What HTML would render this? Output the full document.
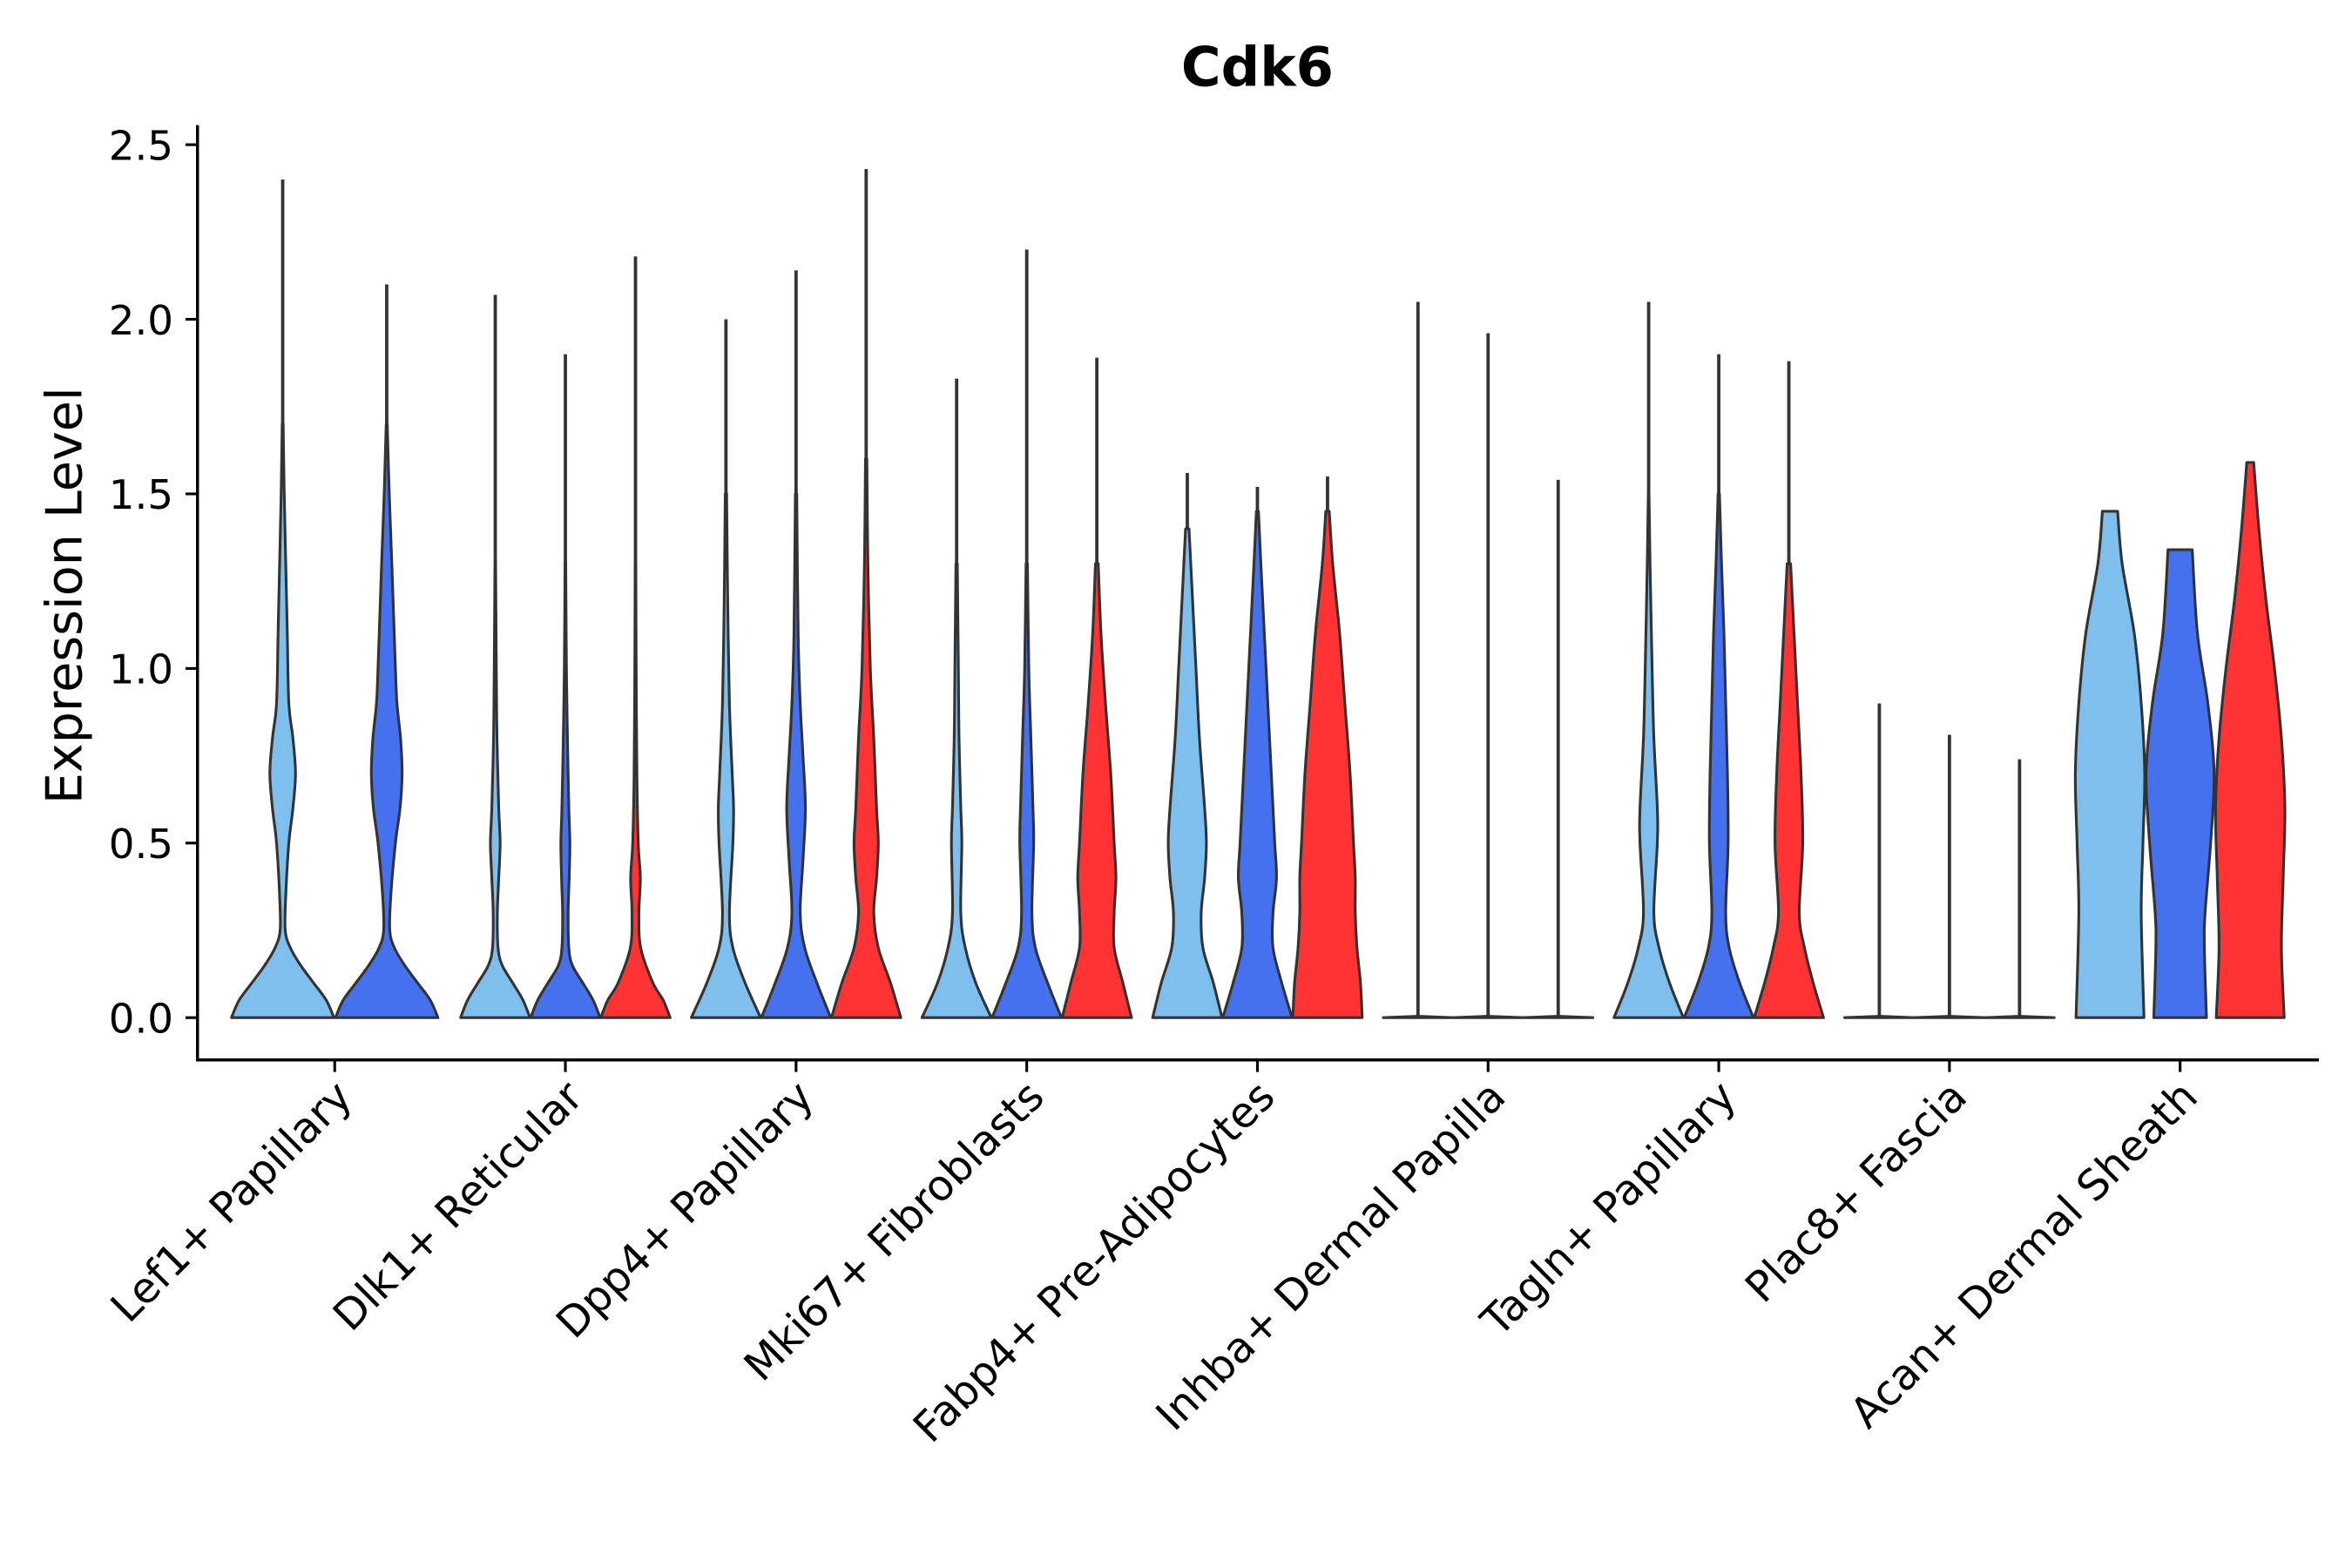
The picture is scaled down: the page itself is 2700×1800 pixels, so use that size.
<!DOCTYPE html>
<html><head><meta charset="utf-8"><style>html,body{margin:0;padding:0;background:#fff}svg{display:block}</style></head>
<body>
<svg id="chart" width="2700" height="1800" viewBox="0 0 1560 1040" xmlns="http://www.w3.org/2000/svg" font-family="'DejaVu Sans', 'Liberation Sans', sans-serif">
<rect width="1560" height="1040" fill="#fff"/>
<text x="834" y="57" text-anchor="middle" font-size="36" font-weight="bold">Cdk6</text>
<text transform="translate(54,395) rotate(-90)" text-anchor="middle" font-size="33">Expression Level</text>
<g id="plot"></g>
</svg>
<script>
const categories = ["Lef1+ Papillary","Dlk1+ Reticular","Dpp4+ Papillary","Mki67+ Fibroblasts","Fabp4+ Pre-Adipocytes","Inhba+ Dermal Papilla","Tagln+ Papillary","Plac8+ Fascia","Acan+ Dermal Sheath"];
const yTicks = [0, 0.5, 1.0, 1.5, 2.0, 2.5];
const yTickLabels = ["0.0","0.5","1.0","1.5","2.0","2.5"];
const seriesColors = ["#7FBFEE","#4570EE","#FF3333"];
const violinMax = [
 [2.40, 2.10, null],
 [2.07, 1.90, 2.18],
 [2.00, 2.14, 2.43],
 [1.83, 2.20, 1.89],
 [1.56, 1.52, 1.55],
 [2.05, 1.96, 1.54],
 [2.05, 1.90, 1.88],
 [0.90, 0.81, 0.74],
 [1.45, 1.34, 1.59]
];
const flat = [[0,1],[0.004,0.02]];
const violinShapes = [
 [[[0,1],[0.05,0.85],[0.1,0.6],[0.15,0.35],[0.2,0.15],[0.25,0.05],[0.35,0.06],[0.5,0.12],[0.6,0.2],[0.7,0.25],[0.8,0.2],[0.9,0.12],[1.1,0.09],[1.3,0.06],[1.5,0.03],[1.7,0.01]],
  [[0,1],[0.05,0.85],[0.1,0.6],[0.15,0.35],[0.2,0.15],[0.25,0.06],[0.35,0.08],[0.5,0.17],[0.6,0.26],[0.7,0.3],[0.8,0.27],[0.9,0.2],[1.0,0.17],[1.3,0.1],[1.5,0.05],[1.7,0.01]],
  null],
 [[[0,1],[0.05,0.8],[0.1,0.5],[0.15,0.2],[0.2,0.08],[0.3,0.06],[0.4,0.1],[0.5,0.14],[0.6,0.1],[0.8,0.05],[1.0,0.03],[1.3,0.01]],
  [[0,1],[0.05,0.8],[0.1,0.5],[0.15,0.2],[0.2,0.1],[0.3,0.08],[0.4,0.11],[0.5,0.13],[0.6,0.1],[0.8,0.06],[1.0,0.03],[1.3,0.01]],
  [[0,1],[0.05,0.8],[0.1,0.5],[0.2,0.15],[0.3,0.1],[0.4,0.14],[0.5,0.08],[0.7,0.04],[1.0,0.02],[1.3,0.01]]],
 [[[0,1],[0.1,0.55],[0.2,0.2],[0.3,0.1],[0.5,0.2],[0.6,0.22],[0.7,0.18],[0.9,0.1],[1.2,0.05],[1.5,0.02]],
  [[0,1],[0.1,0.6],[0.2,0.25],[0.3,0.12],[0.45,0.2],[0.6,0.27],[0.75,0.2],[0.9,0.12],[1.1,0.06],[1.5,0.02]],
  [[0,1],[0.1,0.7],[0.2,0.35],[0.3,0.22],[0.4,0.3],[0.5,0.35],[0.6,0.3],[0.8,0.22],[1.0,0.12],[1.3,0.05],[1.6,0.02]]],
 [[[0,1],[0.1,0.55],[0.2,0.25],[0.3,0.12],[0.5,0.15],[0.6,0.12],[0.8,0.07],[1.0,0.05],[1.3,0.02]],
  [[0,1],[0.1,0.6],[0.2,0.25],[0.3,0.15],[0.5,0.2],[0.6,0.18],[0.8,0.12],[1.0,0.06],[1.3,0.02]],
  [[0,1],[0.1,0.75],[0.2,0.5],[0.3,0.5],[0.4,0.55],[0.5,0.5],[0.7,0.4],[0.9,0.25],[1.1,0.12],[1.3,0.04]]],
 [[[0,1],[0.1,0.75],[0.2,0.45],[0.3,0.4],[0.4,0.5],[0.5,0.55],[0.6,0.5],[0.8,0.35],[1.0,0.25],[1.2,0.15],[1.4,0.05]],
  [[0,1],[0.1,0.7],[0.2,0.45],[0.3,0.45],[0.4,0.55],[0.5,0.5],[0.7,0.4],[0.9,0.3],[1.1,0.2],[1.3,0.1],[1.45,0.03]],
  [[0,1],[0.1,0.95],[0.2,0.85],[0.3,0.8],[0.4,0.8],[0.5,0.75],[0.7,0.65],[0.9,0.5],[1.1,0.35],[1.3,0.15],[1.45,0.05]]],
 [flat, flat, flat],
 [[[0,1],[0.1,0.6],[0.2,0.3],[0.3,0.15],[0.5,0.25],[0.6,0.25],[0.8,0.15],[1.0,0.1],[1.3,0.04],[1.5,0.01]],
  [[0,1],[0.1,0.6],[0.2,0.3],[0.3,0.2],[0.5,0.27],[0.7,0.25],[0.9,0.2],[1.1,0.15],[1.3,0.08],[1.5,0.02]],
  [[0,1],[0.1,0.7],[0.2,0.45],[0.3,0.3],[0.5,0.4],[0.7,0.35],[0.9,0.25],[1.1,0.15],[1.3,0.05]]],
 [flat, flat, flat],
 [[[0,0.98],[0.3,0.9],[0.5,0.95],[0.7,1.0],[0.9,0.9],[1.1,0.7],[1.3,0.35],[1.45,0.22]],
  [[0,0.76],[0.2,0.7],[0.3,0.72],[0.5,0.88],[0.7,0.98],[0.9,0.8],[1.1,0.5],[1.34,0.35]],
  [[0,0.98],[0.2,0.9],[0.4,0.95],[0.6,1.0],[0.8,0.9],[1.0,0.7],[1.2,0.45],[1.4,0.25],[1.59,0.1]]]
];

const NS = "http://www.w3.org/2000/svg";
const plot = document.getElementById("plot");
const L = 131, R = 1538, T = 83, B = 703;
const yMin = -0.121, yMax = 2.556;
function yScale(v){ return B - (v - yMin) / (yMax - yMin) * (B - T); }
function xScale(i){ return 222 + i * 153.0; }
function mk(tag, attrs){ const e = document.createElementNS(NS, tag); for (const k in attrs) e.setAttribute(k, attrs[k]); return e; }
function smooth(pts){
  let d = "";
  for (let k = 0; k < pts.length - 1; k++) {
    const p0 = pts[Math.max(0, k - 1)], p1 = pts[k], p2 = pts[k + 1], p3 = pts[Math.min(pts.length - 1, k + 2)];
    const c1 = [p1[0] + (p2[0] - p0[0]) / 6, p1[1] + (p2[1] - p0[1]) / 6];
    const c2 = [p2[0] - (p3[0] - p1[0]) / 6, p2[1] - (p3[1] - p1[1]) / 6];
    d += " C" + c1[0].toFixed(2) + "," + c1[1].toFixed(2) + " " + c2[0].toFixed(2) + "," + c2[1].toFixed(2) + " " + p2[0].toFixed(2) + "," + p2[1].toFixed(2);
  }
  return d;
}

categories.forEach((cat, i) => {
  const cx = xScale(i);
  const n = violinShapes[i].filter(s => s).length;
  const half = n === 2 ? 34 : 23;
  const step = n === 2 ? 69 : 46.5;
  violinShapes[i].forEach((shape, j) => {
    if (!shape) return;
    const vx = cx + (j - (n - 1) / 2) * step;
    const g = mk("g", {});
    
    
    const right = shape.map(p => [vx + p[1] * half, yScale(p[0])]);
    const left = shape.slice().reverse().map(p => [vx - p[1] * half, yScale(p[0])]);
    let d = "M" + left[left.length-1][0].toFixed(2) + "," + left[left.length-1][1].toFixed(2);
    d += " L" + right[0][0].toFixed(2) + "," + right[0][1].toFixed(2);
    d += smooth(right);
    d += " L" + left[0][0].toFixed(2) + "," + left[0][1].toFixed(2);
    d += smooth(left) + " Z";
    const path = mk("path", {d: d, fill: seriesColors[j], stroke: "#333", "stroke-width": 1.8, "stroke-linejoin": "round"});
    
    
    g.appendChild(path);
    const top = shape[shape.length - 1][0];
    const mx = violinMax[i][j];
    if (mx > top) {
      const ln = mk("line", {x1: vx, x2: vx, y1: yScale(top), y2: yScale(mx), stroke: "#333", "stroke-width": 2.2});
      
      
      g.appendChild(ln);
    }
    plot.appendChild(g);
  });
  const tk = mk("line", {x1: cx, x2: cx, y1: B, y2: B + 8, stroke: "#000", "stroke-width": 1.8});
  
  
  plot.appendChild(tk);
  const t = mk("text", {transform: "translate(" + (cx + 13) + "," + (B + 26) + ") rotate(-45)", "text-anchor": "end", "font-size": 28});
  t.textContent = cat;
  
  
  plot.appendChild(t);
});

yTicks.forEach((v, k) => {
  const y = yScale(v);
  const tk = mk("line", {x1: L - 8, x2: L, y1: y, y2: y, stroke: "#000", "stroke-width": 1.8});
  
  
  plot.appendChild(tk);
  const t = mk("text", {x: L - 16, y: y + 10, "text-anchor": "end", "font-size": 27});
  t.textContent = yTickLabels[k];
  
  
  plot.appendChild(t);
});

const ya = mk("line", {x1: L, x2: L, y1: T, y2: B + 0.9, stroke: "#000", "stroke-width": 2});


plot.appendChild(ya);
const xa = mk("line", {x1: L - 0.9, x2: R, y1: B, y2: B, stroke: "#000", "stroke-width": 2});


plot.appendChild(xa);
</script>
</body></html>
